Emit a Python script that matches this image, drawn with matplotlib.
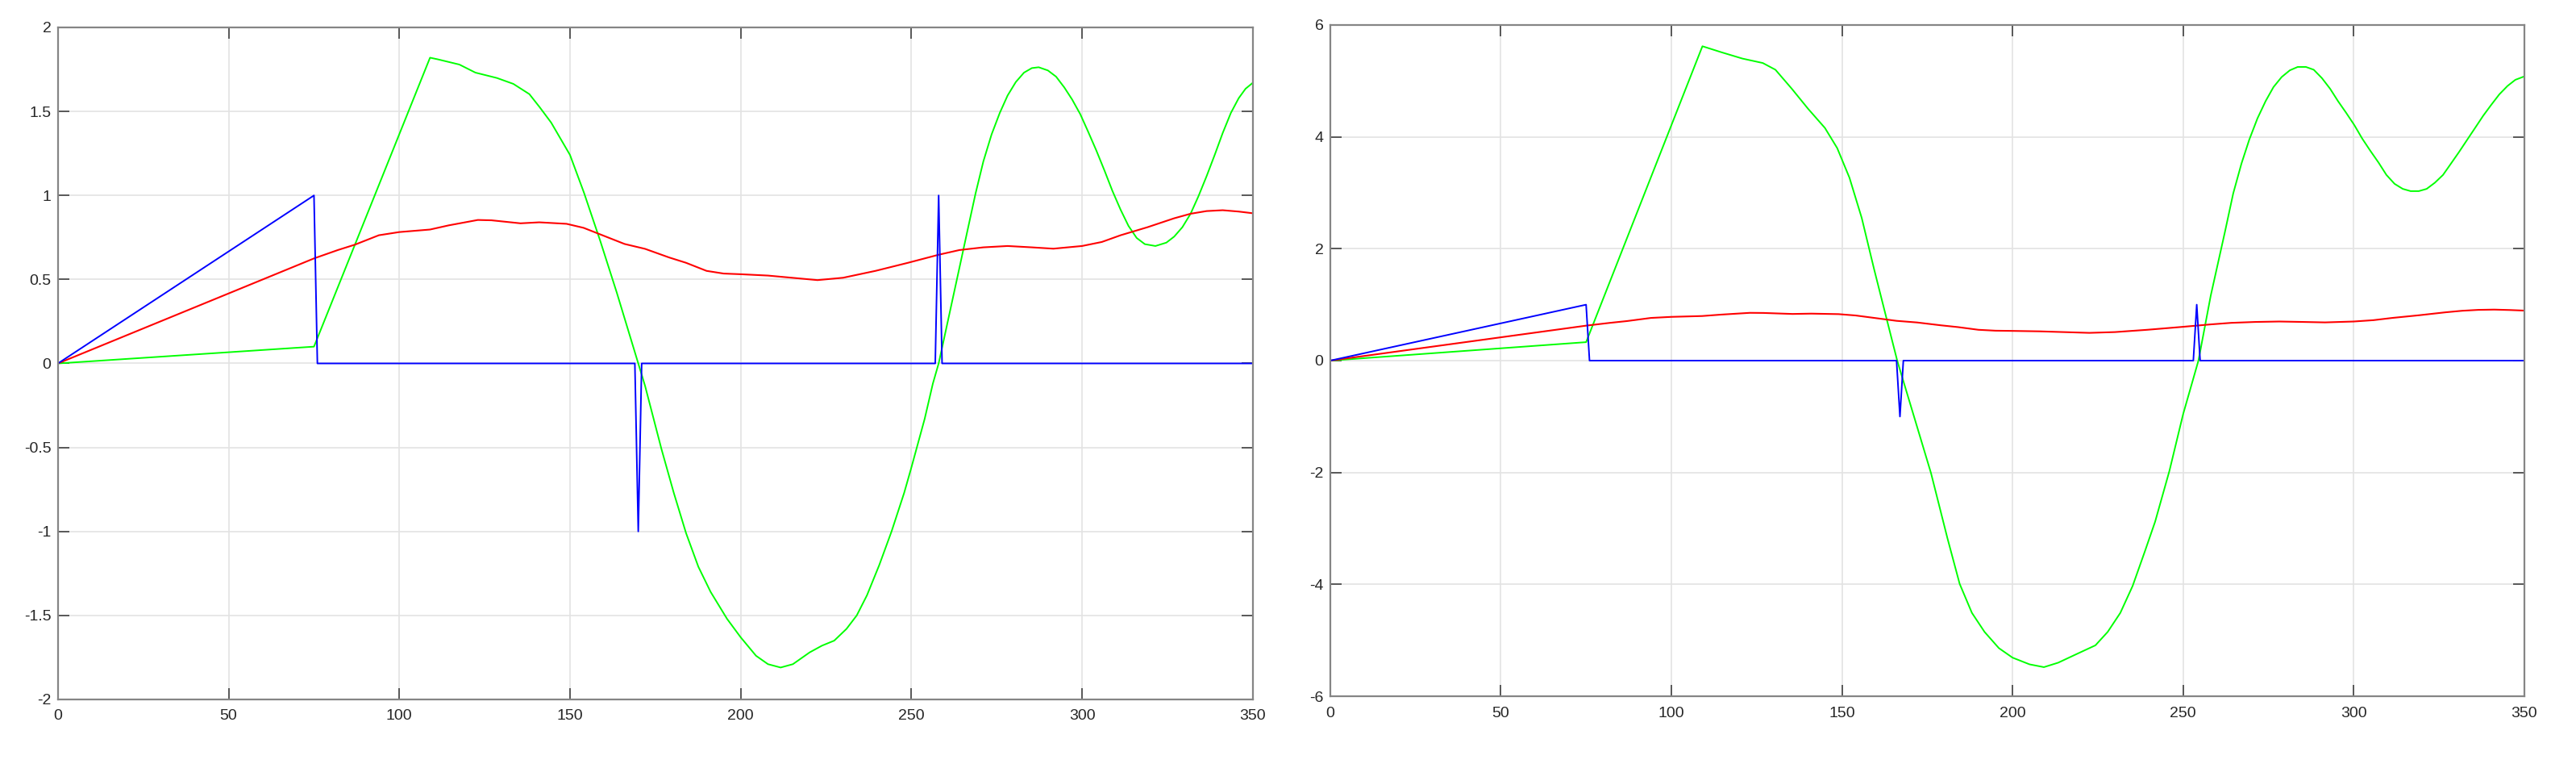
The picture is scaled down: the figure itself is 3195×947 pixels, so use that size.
import numpy as np
import matplotlib
matplotlib.use('Agg')
import matplotlib.pyplot as plt

# Shared axis ticks
x_ticks = [0, 50, 100, 150, 200, 250, 300, 350]
x_labels = ['0', '50', '100', '150', '200', '250', '300', '350']
y_ticks_left = [-2, -1.5, -1, -0.5, 0, 0.5, 1, 1.5, 2]
y_labels_left = ['-2', '-1.5', '-1', '-0.5', '0', '0.5', '1', '1.5', '2']
y_ticks_right = [-6, -4, -2, 0, 2, 4, 6]
y_labels_right = ['-6', '-4', '-2', '0', '2', '4', '6']

# Red signal (same in both panels)
t_red = [0, 75, 82, 87, 94, 100, 109, 114.5, 123, 127, 135.5, 141, 149, 154, 159, 166,
         172, 179, 184, 190, 195, 200, 208, 215, 222.5, 230, 239.5, 249, 258, 264.1,
         271.1, 278.2, 285.3, 291.6, 300, 305.8, 311.3, 319.2, 327, 331.8, 336.5, 341.2,
         345.9, 350]
red = [0, 0.625, 0.675, 0.707, 0.763, 0.782, 0.797, 0.822, 0.854, 0.852, 0.834, 0.840,
       0.831, 0.807, 0.767, 0.711, 0.682, 0.631, 0.599, 0.551, 0.535, 0.531, 0.523,
       0.510, 0.496, 0.510, 0.551, 0.599, 0.647, 0.675, 0.691, 0.699, 0.691, 0.683,
       0.699, 0.723, 0.763, 0.811, 0.864, 0.891, 0.907, 0.912, 0.904, 0.894]

# Left panel: green and blue
t_green_l = [0, 75, 109, 111.3, 117.6, 122.3, 128.6, 133.4, 138.1, 141.2, 144.5, 150,
             154.1, 158.9, 163.7, 170, 172, 176.8, 180.4, 184, 187.6, 191.2, 196, 200,
             204.5, 208, 211.7, 215.3, 220.2, 223.8, 227.4, 231, 234, 237, 240.6, 244.2,
             247.9, 250, 253.9, 256.3, 258, 264.1, 266.4, 268.8, 271.1, 273.5, 275.9,
             278.2, 280.6, 283, 285.3, 287.3, 290, 292.4, 294.8, 297.1, 299.5, 301.8,
             304.2, 306.6, 308.9, 311.3, 313.6, 316, 318.4, 321.5, 324.7, 327, 329.4,
             331.8, 334.1, 336.5, 338.9, 341.2, 343.6, 345.9, 347.9, 350]
green_l = [0, 0.10, 1.82, 1.81, 1.779, 1.731, 1.699, 1.664, 1.603, 1.523, 1.433, 1.241,
           1.016, 0.727, 0.422, 0.0, -0.134, -0.51, -0.77, -1.01, -1.21, -1.36, -1.52,
           -1.63, -1.74, -1.79, -1.81, -1.79, -1.72, -1.68, -1.65, -1.58, -1.50, -1.38,
           -1.20, -1.00, -0.77, -0.62, -0.33, -0.12, 0.0, 0.571, 0.787, 1.011, 1.203,
           1.363, 1.491, 1.595, 1.675, 1.731, 1.758, 1.763, 1.744, 1.707, 1.643, 1.571,
           1.483, 1.379, 1.267, 1.147, 1.027, 0.915, 0.819, 0.747, 0.710, 0.699, 0.719,
           0.755, 0.811, 0.891, 0.995, 1.115, 1.243, 1.371, 1.491, 1.579, 1.635, 1.670]
t_blue_l = [0, 75, 76, 169, 170, 171, 257, 258, 259, 350]
blue_l = [0, 1, 0, 0, -1, 0, 0, 1, 0, 0]

# Right panel: green and blue
t_green_r = [0, 75, 109.1, 114.8, 120.8, 126.8, 130.5, 135.3, 140.1, 145, 148.6, 152.2,
             155.8, 159.4, 163, 166.2, 176.1, 180.9, 184.5, 188.1, 191.8, 196, 200, 205,
             209.2, 213.4, 218.3, 224.3, 227.9, 231.6, 235.2, 238.8, 241.8, 246, 250,
             254.5, 258.1, 262.3, 264.7, 267.1, 269.4, 271.8, 274.2, 276.5, 278.9, 281.3,
             283.6, 286, 288.3, 290.7, 293.1, 295.4, 297.8, 300.2, 302.5, 304.9, 307.3,
             309.6, 312, 314.4, 316.7, 319.1, 321.4, 323.8, 326.2, 328.5, 330.9, 333.3,
             335.6, 338, 340.3, 342.7, 345.1, 347.4, 350]
green_r = [0, 0.33, 5.62, 5.51, 5.40, 5.32, 5.20, 4.86, 4.50, 4.16, 3.80, 3.27, 2.55,
           1.64, 0.77, 0.0, -2.01, -3.17, -3.99, -4.51, -4.85, -5.14, -5.31, -5.43, -5.48,
           -5.40, -5.26, -5.09, -4.85, -4.51, -4.03, -3.41, -2.88, -1.97, -0.96, 0.0, 1.16,
           2.31, 2.99, 3.52, 3.95, 4.33, 4.64, 4.89, 5.07, 5.19, 5.25, 5.25, 5.20, 5.05,
           4.86, 4.64, 4.43, 4.21, 3.97, 3.75, 3.54, 3.32, 3.16, 3.07, 3.03, 3.03, 3.07,
           3.18, 3.32, 3.52, 3.73, 3.95, 4.16, 4.38, 4.57, 4.76, 4.91, 5.02, 5.08]
t_blue_r = [0, 75, 76, 166, 167, 168, 253, 254, 255, 350]
blue_r = [0, 1, 0, 0, -1, 0, 0, 1, 0, 0]

plt.rcParams['font.family'] = ['Liberation Sans', 'DejaVu Sans']

fig = plt.figure(figsize=(31.95, 9.47), dpi=100)
ax1 = fig.add_axes([0.0225, 0.0845, 0.4638, 0.8796])
ax2 = fig.add_axes([0.5164, 0.0887, 0.4635, 0.8786])


def style_axes(ax, yticks, ylabels, ylim):
    ax.set_xlim(0, 350)
    ax.set_ylim(*ylim)
    ax.set_xticks(x_ticks)
    ax.set_xticklabels(x_labels)
    ax.set_yticks(yticks)
    ax.set_yticklabels(ylabels)
    ax.grid(True, color='#e3e3e3', linewidth=1.2)
    ax.set_axisbelow(True)
    for s in ax.spines.values():
        s.set_color('#858585')
        s.set_linewidth(1.6)
    ax.tick_params(direction='in', length=10, width=1.2, color='#404040',
                   top=True, right=True, labelsize=14, labelcolor='#262626')
    ax.tick_params(axis='x', pad=9)
    ax.tick_params(axis='y', pad=6)


for ax, tg, g, tb, b in [(ax1, t_green_l, green_l, t_blue_l, blue_l),
                         (ax2, t_green_r, green_r, t_blue_r, blue_r)]:
    ax.plot(tg, g, color='#00ff00', linewidth=1.4)
    ax.plot(t_red, red, color='#ff0000', linewidth=1.5)
    ax.plot(tb, b, color='#0000ff', linewidth=1.4)

style_axes(ax1, y_ticks_left, y_labels_left, (-2, 2))
style_axes(ax2, y_ticks_right, y_labels_right, (-6, 6))

fig.savefig('out.png', dpi=100, facecolor='white')
